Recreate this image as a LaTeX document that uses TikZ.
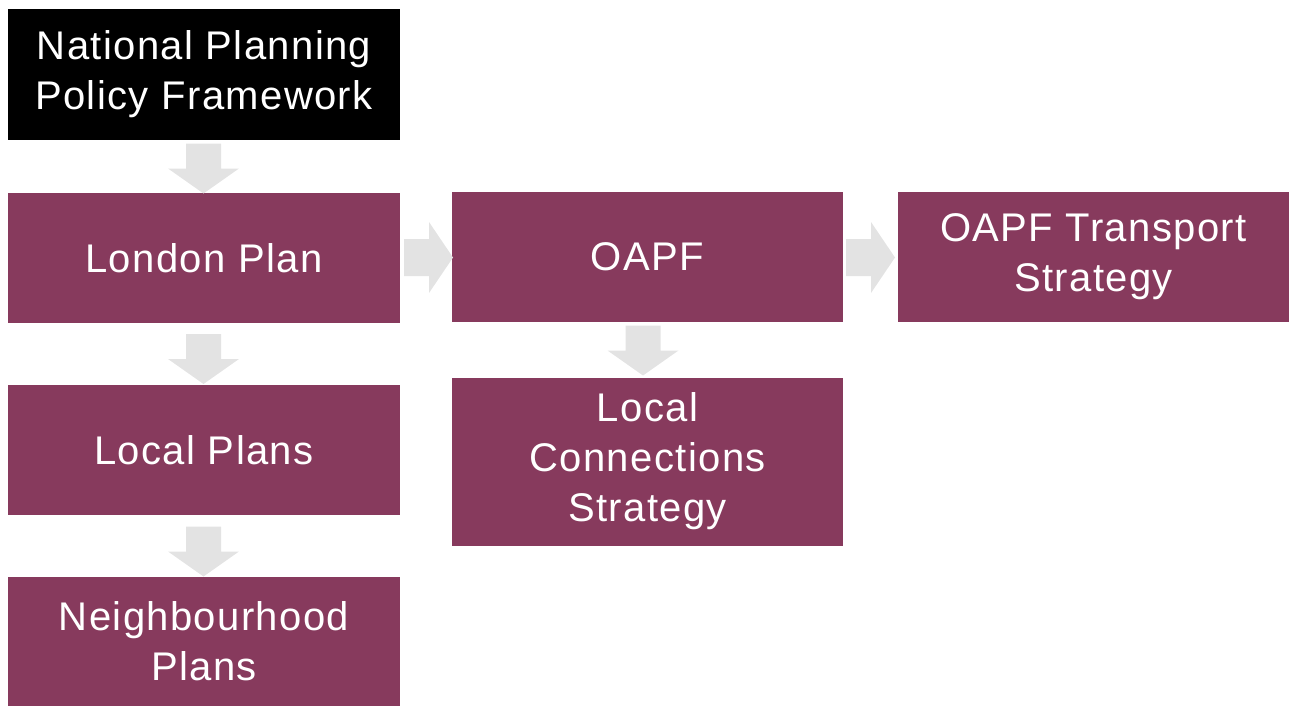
\documentclass[tikz,border=0pt]{standalone}
\usepackage{fontspec}
\setmainfont[LetterSpace=3.5]{Liberation Sans}
\definecolor{maroon}{RGB}{135,58,93}
\definecolor{arrowgray}{RGB}{227,227,227}
\tikzset{
  box/.style={rectangle, fill=maroon, text=white, inner sep=0pt, align=center,
    minimum width=392pt, minimum height=130pt,
    font=\fontsize{40}{50}\selectfont},
  blackbox/.style={box, fill=black},
  blockarrow/.style={fill=arrowgray, draw=none},
  downarrow/.pic={\fill[blockarrow] (-17.5,0) -- (17.5,0) -- (17.5,25) -- (35.5,25) -- (0,50) -- (-35.5,25) -- (-17.5,25) -- cycle;},
  rightarrow/.pic={\fill[blockarrow] (0,-18.5) -- (25,-18.5) -- (25,-35.5) -- (49,0) -- (25,35.5) -- (25,18.5) -- (0,18.5) -- cycle;}
}
\begin{document}
\begin{tikzpicture}[x=1pt,y=-1pt]
\useasboundingbox (0,0) rectangle (1289,706);
\node[blackbox] (nppf) at (204,74.5) {National Planning\\Policy Framework};
\node[box] (london) at (204,258) {London Plan};
\node[box] (local) at (204,450) {Local Plans};
\node[box, minimum height=129pt] (neigh) at (204,641.5) {Neighbourhood\\Plans};
\node[box, minimum width=391pt] (oapf) at (647.5,257) {OAPF};
\node[box, minimum width=391pt, minimum height=168pt] (lcs) at (647.5,461.5) {Local\\Connections\\Strategy};
\node[box, minimum width=391pt] (transport) at (1093.5,257) {OAPF Transport\\Strategy};
\pic at (203.5,143.5) {downarrow};
\pic at (203.5,334) {downarrow};
\pic at (203.5,526.5) {downarrow};
\pic at (643,325.5) {downarrow};
\pic at (404,257.5) {rightarrow};
\pic at (846,257.5) {rightarrow};
\end{tikzpicture}
\end{document}
